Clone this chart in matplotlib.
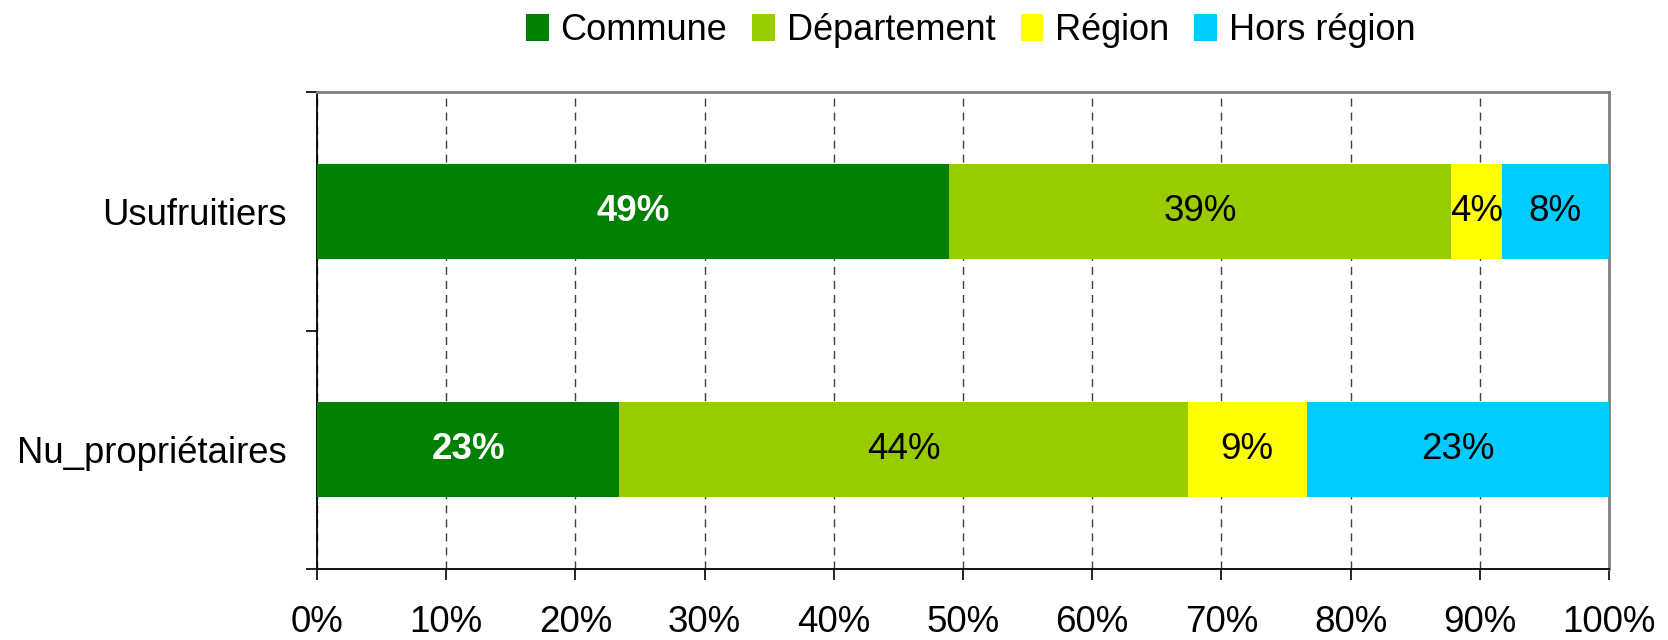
import matplotlib
matplotlib.use("Agg")
import matplotlib.pyplot as plt
from matplotlib.ticker import FixedLocator

plt.rcParams['font.family'] = ['Liberation Sans', 'DejaVu Sans']

categories = ["Nu_propriétaires", "Usufruitiers"]
series_names = ["Commune", "Département", "Région", "Hors région"]
commune = [23.4, 48.9]
departement = [44.0, 38.9]
region = [9.2, 3.9]
hors_region = [23.4, 8.3]
x_ticks = [0, 10, 20, 30, 40, 50, 60, 70, 80, 90, 100]
x_tick_labels = [f"{t}%" for t in x_ticks]

colors = ["#008000", "#99CC00", "#FFFF00", "#00CCFF"]
label_colors = ["white", "black", "black", "black"]
label_weights = ["bold", "normal", "normal", "normal"]

fig = plt.figure(figsize=(16.68, 6.4), dpi=100)
ax = fig.add_axes([0.190, 0.111, 0.7746, 0.745])

series = [commune, departement, region, hors_region]
ypos = list(range(len(categories)))
left = [0.0] * len(categories)
for name, vals, c, lc, lw_ in zip(series_names, series, colors, label_colors, label_weights):
    ax.barh(ypos, vals, left=left, height=0.4, color=c, label=name, zorder=3)
    for yi, (l, v) in enumerate(zip(left, vals)):
        ax.text(l + v / 2, yi, f"{v:.0f}%", ha="center", va="center",
                fontsize=26.5, color=lc, fontweight=lw_, zorder=4)
    left = [l + v for l, v in zip(left, vals)]

ax.set_xlim(0, 100)
ax.set_ylim(-0.5, 1.5)
ax.set_xticks(x_ticks)
ax.set_xticklabels(x_tick_labels, fontsize=26.5)
ax.tick_params(axis="x", direction="out", length=8, width=1.2, color="black", pad=18)

ax.set_yticks(ypos)
ax.set_yticklabels(categories, fontsize=26.3)
ax.tick_params(axis="y", which="major", length=0, pad=22)
ax.yaxis.set_minor_locator(FixedLocator([-0.5, 0.5, 1.5]))
ax.tick_params(axis="y", which="minor", direction="out", length=8, width=1.2, color="black")

ax.set_axisbelow(True)
ax.xaxis.grid(True, color="#404040", linestyle=(0, (5.8, 4.3)), linewidth=1.0, zorder=0)

for s in ["left", "bottom"]:
    ax.spines[s].set_color("black")
    ax.spines[s].set_linewidth(1.3)
for s in ["top", "right"]:
    ax.spines[s].set_color("#808080")
    ax.spines[s].set_linewidth(2.0)

leg = fig.legend(loc="center", bbox_to_anchor=(0.582, 0.952), ncol=4, frameon=False,
                 prop={"family": ["Liberation Sans", "DejaVu Sans"], "size": 26},
                 handlelength=0.62, handleheight=0.75, handletextpad=0.33,
                 columnspacing=0.7, borderaxespad=0)

fig.savefig("out.png", dpi=100)
